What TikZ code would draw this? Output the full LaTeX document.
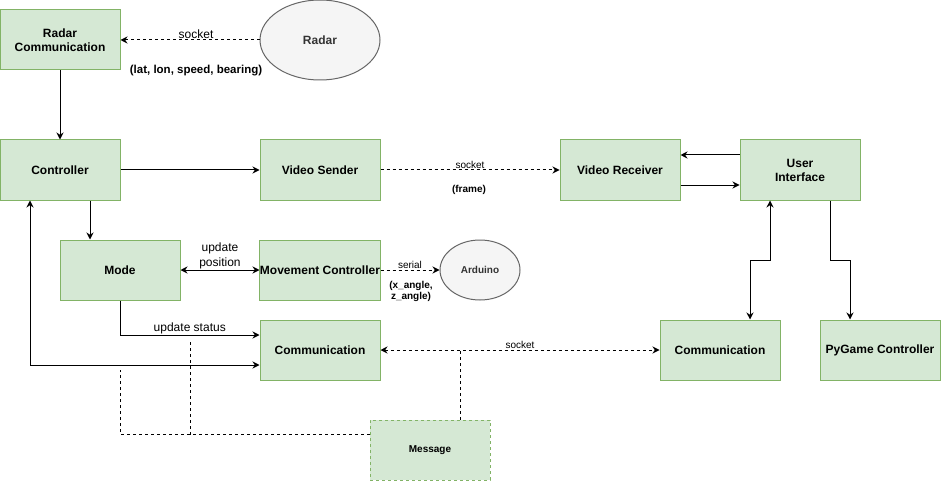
\documentclass[tikz,border=0pt]{standalone}
\usepackage{fontspec}
\setmainfont{Liberation Sans}
\usetikzlibrary{arrows.meta,shapes.geometric}
\definecolor{boxfill}{HTML}{D5E8D4}
\definecolor{boxline}{HTML}{82B366}
\definecolor{ovalfill}{HTML}{F5F5F5}
\definecolor{ovalline}{HTML}{666666}
\definecolor{ovaltext}{HTML}{333333}

\begin{document}
\begin{tikzpicture}[x=1pt,y=-1pt,
	block/.style={shape=rectangle,draw=boxline,fill=boxfill,line width=1pt,minimum width=120pt,minimum height=60pt,inner sep=0pt,align=center,font=\fontsize{12}{14}\selectfont\bfseries},
	oval/.style={shape=ellipse,draw=ovalline,fill=ovalfill,line width=1pt,inner sep=0pt,text=ovaltext},
	link/.style={line width=1pt,-{Stealth[length=7pt,width=7pt]}},
	twoway/.style={line width=1pt,{Stealth[length=7pt,width=7pt]}-{Stealth[length=7pt,width=7pt]}},
	wire/.style={line width=1pt,dash pattern=on 3pt off 3pt},
	tag/.style={inner sep=1pt,align=center,font=\fontsize{10}{11}\selectfont},
	boldtag/.style={inner sep=1pt,align=center,font=\fontsize{10}{11}\selectfont\bfseries},
	bigtag/.style={inner sep=1pt,align=center,font=\fontsize{12}{15}\selectfont}]
	\useasboundingbox (0,0) rectangle (941,481);
	\node[block] (radcomm) at (60,40) {Radar\\Communication};
	\node[oval,minimum width=120pt,minimum height=80pt,font=\fontsize{12}{14}\selectfont\bfseries] (radar) at (320,40) {Radar};
	\node[block] (ctrl) at (60,170) {Controller};
	\node[block] (vsend) at (320,170) {Video Sender};
	\node[block] (vrecv) at (620,170) {Video Receiver};
	\node[block] (ui) at (800,170) {User\\Interface};
	\node[block] (mode) at (120,270) {Mode};
	\node[block] (movectl) at (320,270) {Movement Controller};
	\node[oval,minimum width=80pt,minimum height=60pt,font=\fontsize{10}{12}\selectfont\bfseries] (arduino) at (480,270) {Arduino};
	\node[block] (comml) at (320,350) {Communication};
	\node[block] (commr) at (720,350) {Communication};
	\node[block] (pygame) at (880,350) {PyGame Controller};
	\node[block,dash pattern=on 3pt off 3pt,font=\fontsize{10}{12}\selectfont\bfseries] (msg) at (430,450) {Message};
	\coordinate (tapsock) at (460,350);
	\coordinate (tapleft) at (120,370);
	\coordinate (tapmid) at (190,342);
	% radar side
	\draw[link,wire] (radar) -- (radcomm) node[bigtag,midway,above,xshift=6pt] {socket};
	\node[bigtag,font=\fontsize{11.5}{14}\selectfont\bfseries] (radardata) at (196,71) {(lat, lon, speed, bearing)};
	\draw[link] (radcomm) -- (ctrl);
	% video
	\draw[link] (ctrl) -- (vsend);
	\draw[link,wire] (vsend) -- (vrecv) node[tag,midway,above] {socket};
	\node[boldtag] (framedata) at (469,190) {(frame)};
	\draw[link] ([yshift=15pt]ui.west) -- ([yshift=15pt]vrecv.east);
	\draw[link] ([yshift=-15pt]vrecv.east) -- ([yshift=-15pt]ui.west);
	% mode and movement
	\draw[link] ([xshift=30pt]ctrl.south) -- ([xshift=-30pt]mode.north);
	\draw[twoway] (mode) -- (movectl) node[bigtag,midway,above] {update\\position};
	\draw[link,wire] (movectl) -- (arduino) node[tag,midway,above] {serial};
	\node[boldtag] (angledata) at (411,291) {(x\_angle,\\z\_angle)};
	% communication
	\draw[link] (mode.south) |- ([yshift=15pt]comml.west) node[bigtag,pos=0.75,above] {update status};
	\draw[twoway] ([xshift=-30pt]ctrl.south) |- ([yshift=-15pt]comml.west);
	\draw[twoway,wire] (comml) -- (commr) node[tag,midway,above] {socket};
	\draw[twoway] ([xshift=-30pt]ui.south) -- ++(0,60) -| ([xshift=30pt]commr.north);
	\draw[link] ([xshift=30pt]ui.south) -- ++(0,60) -| ([xshift=-30pt]pygame.north);
	% message
	\draw[wire] ([xshift=30pt]msg.north) -- (tapsock);
	\draw[wire] ([yshift=-15pt]msg.north west) -| (tapleft);
	\draw[wire] (tapmid) -- (tapmid |- msg.north west) -- ++(0,15);
\end{tikzpicture}
\end{document}
